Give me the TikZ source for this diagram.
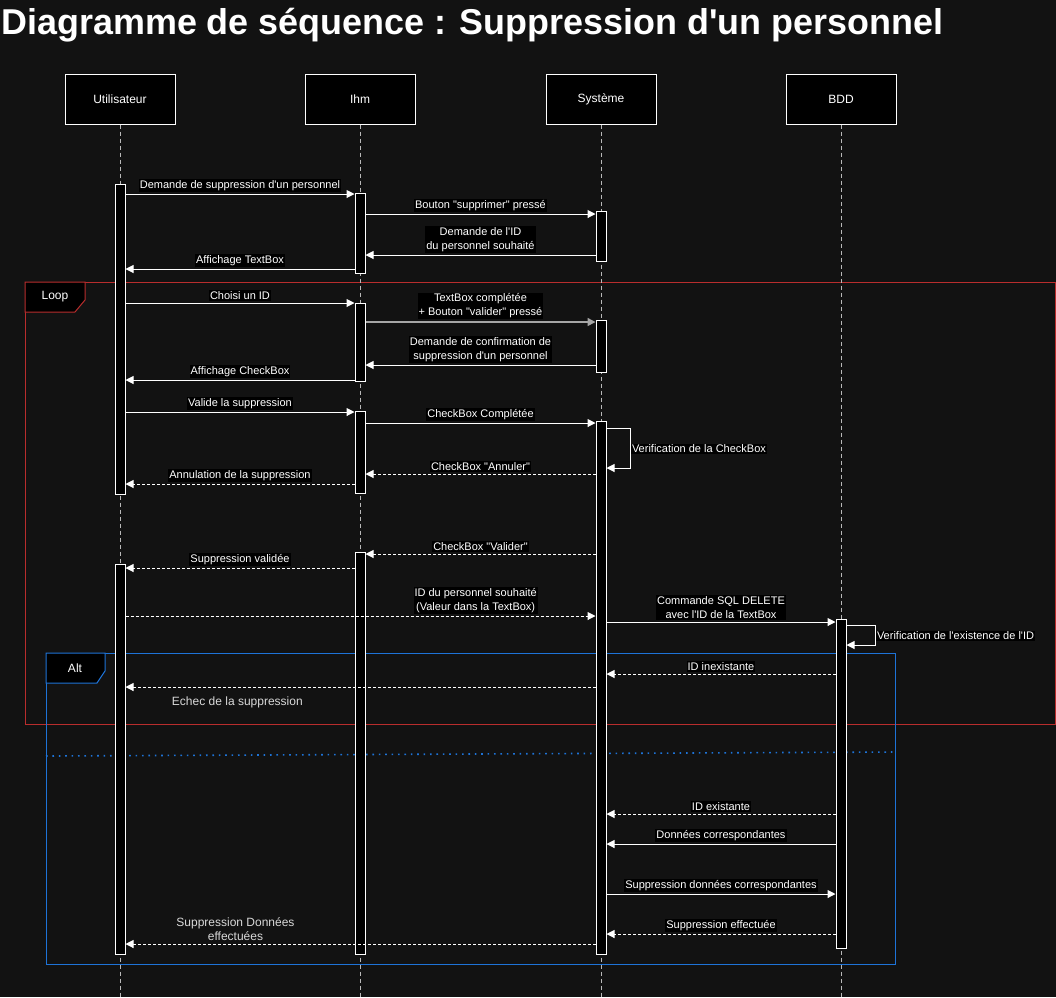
\documentclass[tikz,border=0pt]{standalone}
\usepackage{fontspec}
\setmainfont{Liberation Sans}[Ligatures=TeXOff]
\usetikzlibrary{arrows.meta}
\definecolor{bg}{RGB}{18,18,18}
\definecolor{loopred}{RGB}{185,45,45}
\definecolor{altblue}{RGB}{30,115,215}
\definecolor{lifegray}{RGB}{185,185,185}
\tikzstyle{seq}=[line width=1pt, x=1pt, y=-1pt, text=white, font=\fontsize{11}{14}\selectfont]
\tikzstyle{actor}=[rectangle, draw=white, fill=black, minimum width=110pt, minimum height=50pt, inner sep=0pt, font=\fontsize{12}{14}\selectfont]
\tikzstyle{actbar}=[rectangle, draw=white, fill=black, minimum width=10pt, inner sep=0pt]
\tikzstyle{life}=[-, draw=lifegray, dash pattern=on 4pt off 3pt]
\tikzstyle{msg}=[draw=white, -{Triangle[length=8pt,width=8pt]}]
\tikzstyle{reply}=[msg, dash pattern=on 3pt off 2pt]
\tikzstyle{lbl}=[fill=black, inner sep=1pt, above=2pt, align=center]
\tikzstyle{nolbl}=[inner sep=1pt, align=center, text=white!85!black, font=\fontsize{12}{14}\selectfont]
\tikzstyle{g}=[inner sep=0pt, font=\fontsize{12}{14}\selectfont]

\begin{document}
\begin{tikzpicture}[seq]
				%The background
				\fill[bg, use as bounding box] (0,0) rectangle (1056,997);
				\draw (1,34) node[g, anchor=base west, font=\fontsize{35.9}{40}\selectfont\bfseries] (title) {Diagramme de séquence : Suppression d'un personnel};
				
				%The actors
				\draw (120,99) node[actor] (usr) {Utilisateur};
				\draw (360,99) node[actor] (ihm) {Ihm};
				\draw (601,99) node[actor] (sys) {Système};
				\draw (841,99) node[actor] (bdd) {BDD};
				
				%The frames
				\draw[loopred] (25,282) rectangle (1055,724);
				\draw[loopred, fill=black] (25,282) -- (85,282) -- (85,300) -- (75,312) -- (25,312) -- cycle;
				\draw (55,297) node[g] (loop) {Loop};
				\draw[altblue] (46,653) rectangle (895,964);
				\draw[altblue, fill=black] (46,653) -- (105,653) -- (105,671) -- (97,683) -- (46,683) -- cycle;
				\draw (75,668) node[g] (alt) {Alt};
				\draw[altblue, line width=1.6pt, dash pattern=on 1.6pt off 4.8pt] (46,756) -- (895,752);
				
				%The lifelines
				\draw[life] (usr.south) -- (usr.south |- 0,997);
				\draw[life] (ihm.south) -- (ihm.south |- 0,997);
				\draw[life] (sys.south) -- (sys.south |- 0,997);
				\draw[life] (bdd.south) -- (bdd.south |- 0,997);
				
				%The activations
				\draw (120,339) node[actbar, minimum height=310pt] (b-usr1) {};
				\draw (120,759) node[actbar, minimum height=390pt] (b-usr2) {};
				\draw (360,233) node[actbar, minimum height=80pt] (b-ihm1) {};
				\draw (360,342) node[actbar, minimum height=78pt] (b-ihm2) {};
				\draw (360,452) node[actbar, minimum height=82pt] (b-ihm3) {};
				\draw (360,753) node[actbar, minimum height=402pt] (b-ihm4) {};
				\draw (601,236) node[actbar, minimum height=50pt] (b-sys1) {};
				\draw (601,346) node[actbar, minimum height=52pt] (b-sys2) {};
				\draw (601,687.5) node[actbar, minimum height=533pt] (b-sys3) {};
				\draw (841,783.5) node[actbar, minimum height=329pt] (b-bdd1) {};
				
				%The first messages
				\draw[msg] (b-usr1.east |- 0,194) -- node[lbl] {Demande de suppression d'un personnel} (b-ihm1.west |- 0,194);
				\draw[msg] (b-ihm1.east |- 0,214) -- node[lbl] {Bouton "supprimer" pressé} (b-sys1.west |- 0,214);
				\draw[msg] (b-sys1.west |- 0,255) -- node[lbl] {Demande de l'ID\\du personnel souhaité} (b-ihm1.east |- 0,255);
				\draw[msg] (b-ihm1.west |- 0,269) -- node[lbl] {Affichage TextBox} (b-usr1.east |- 0,269);
				
				%The loop messages
				\draw[msg] (b-usr1.east |- 0,303) -- node[lbl] {Choisi un ID} (b-ihm2.west |- 0,303);
				\draw[msg, draw=white!65!black, line width=1.5pt] (b-ihm2.east |- 0,322) -- node[lbl] {TextBox complétée\\+ Bouton "valider" pressé} (b-sys2.west |- 0,322);
				\draw[msg] (b-sys2.west |- 0,365) -- node[lbl] {Demande de confirmation de\\suppression d'un personnel} (b-ihm2.east |- 0,365);
				\draw[msg] (b-ihm2.west |- 0,380) -- node[lbl] {Affichage CheckBox} (b-usr1.east |- 0,380);
				\draw[msg] (b-usr1.east |- 0,412) -- node[lbl] {Valide la suppression} (b-ihm3.west |- 0,412);
				\draw[msg] (b-ihm3.east |- 0,423) -- node[lbl] {CheckBox Complétée} (b-sys3.west |- 0,423);
				\draw[msg] (b-sys3.east |- 0,428) -- ++(24,0) |- node[lbl, pos=0.25, anchor=west, yshift=-3pt] {Verification de la CheckBox} (b-sys3.east |- 0,468);
				\draw[reply] (b-sys3.west |- 0,474) -- node[lbl] {CheckBox "Annuler"} (b-ihm3.east |- 0,474);
				\draw[reply] (b-ihm3.west |- 0,484) -- node[lbl] {Annulation de la suppression} (b-usr1.east |- 0,484);
				\draw[reply] (b-sys3.west |- 0,554) -- node[lbl] {CheckBox "Valider"} (b-ihm4.east |- 0,554);
				\draw[reply] (b-ihm4.west |- 0,568) -- node[lbl] {Suppression validée} (b-usr2.east |- 0,568);
				\draw[reply] (b-usr2.east |- 0,616) -- node[lbl, pos=0.745] {ID du personnel souhaité\\(Valeur dans la TextBox)} (b-sys3.west |- 0,616);
				\draw[msg] (b-sys3.east |- 0,622) -- node[lbl] {Commande SQL DELETE\\avec l'ID de la TextBox} (b-bdd1.west |- 0,622);
				\draw[msg] (b-bdd1.east |- 0,625) -- ++(29,0) |- node[lbl, pos=0.25, anchor=west, yshift=-3pt] {Verification de l'existence de l'ID} (b-bdd1.east |- 0,645);
				
				%The alt messages
				\draw[reply] (b-bdd1.west |- 0,674) -- node[lbl] {ID inexistante} (b-sys3.east |- 0,674);
				\draw[reply] (b-sys3.west |- 0,687) -- node[nolbl, below=8pt, pos=0.762] {Echec de la suppression} (b-usr2.east |- 0,687);
				\draw[reply] (b-bdd1.west |- 0,814) -- node[lbl] {ID existante} (b-sys3.east |- 0,814);
				\draw[msg] (b-bdd1.west |- 0,844) -- node[lbl] {Données correspondantes} (b-sys3.east |- 0,844);
				\draw[msg] (b-sys3.east |- 0,894) -- node[lbl] {Suppression données correspondantes} (b-bdd1.west |- 0,894);
				\draw[reply] (b-bdd1.west |- 0,934) -- node[lbl] {Suppression effectuée} (b-sys3.east |- 0,934);
				\draw[reply] (b-sys3.west |- 0,944) -- node[nolbl, above=2pt, pos=0.766] {Suppression Données\\effectuées} (b-usr2.east |- 0,944);
			\end{tikzpicture}
\end{document}
